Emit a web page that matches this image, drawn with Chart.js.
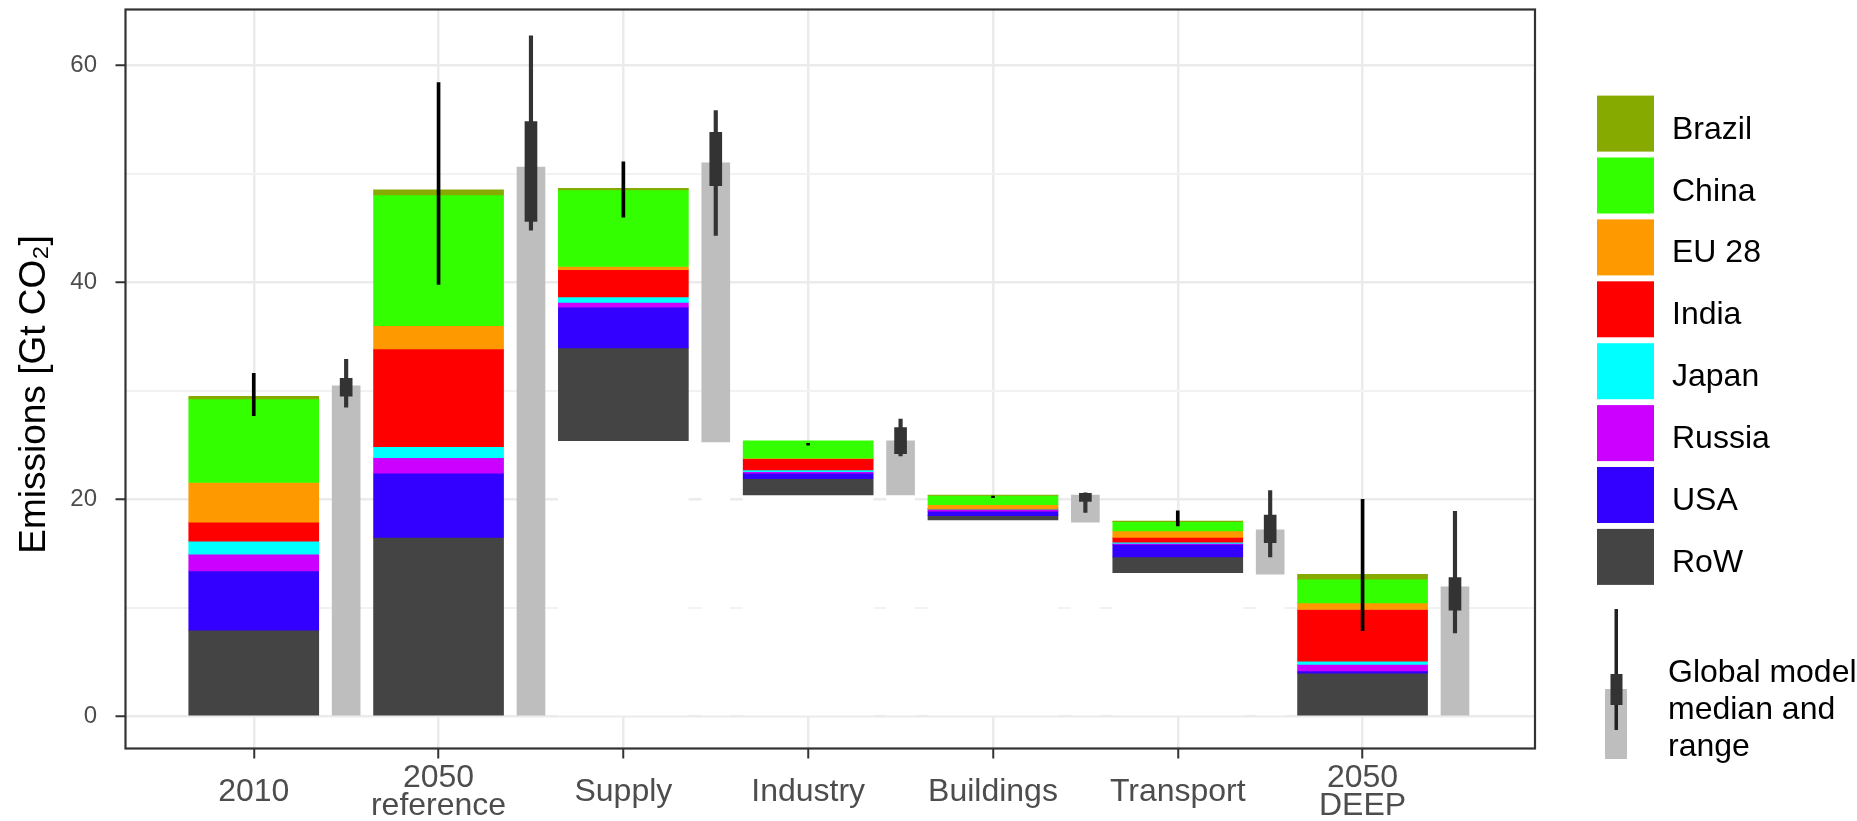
<!DOCTYPE html>
<html>
<head>
<meta charset="utf-8">
<style>
  html, body { margin: 0; padding: 0; background: #fff; }
  #wrap { width: 1857px; height: 821px; }
</style>
<script src="https://cdn.jsdelivr.net/npm/chart.js@4.4.1/dist/chart.umd.min.js"></script>
</head>
<body>
<div id="wrap"><canvas id="emissions"></canvas></div>
<script>
const FONT = "'Liberation Sans', Arial, sans-serif"

const categories = [['2010'], ['2050', 'reference'], ['Supply'], ['Industry'], ['Buildings'], ['Transport'], ['2050', 'DEEP']]
const regions = ['Brazil', 'China', 'EU 28', 'India', 'Japan', 'Russia', 'USA', 'RoW']
const regionColors = ['#86AA00', '#33FF00', '#FF9900', '#FF0000', '#00FFFF', '#CC00FF', '#3300FF', '#444444']

// bottom of each (waterfall) bar
const barBase = [0, 0, 25.4, 20.4, 18.1, 13.25, 0]

// Gt CO2 per region, stacked from RoW (bottom) up to Brazil (top)
const brazil = [0.25, 0.45, 0.15, 0, 0.05, 0.05, 0.45]
const china = [7.7, 12.05, 7.05, 1.6, 0.85, 0.85, 2.2]
const eu28 = [3.65, 2.15, 0.3, 0.05, 0.35, 0.6, 0.6]
const india = [1.75, 9.0, 2.5, 1.05, 0.05, 0.45, 4.75]
const japan = [1.2, 1.0, 0.5, 0.15, 0.05, 0.1, 0.3]
const russia = [1.55, 1.45, 0.45, 0.15, 0.15, 0.1, 0.6]
const usa = [5.45, 5.9, 3.75, 0.5, 0.4, 1.15, 0.2]
const row = [7.95, 16.5, 8.55, 1.5, 0.4, 1.45, 4.0]
const regionValues = [brazil, china, eu28, india, japan, russia, usa, row]

// range on the country bars
const rangeLow = [27.7, 39.8, 46.0, 25.0, 20.15, 17.55, 7.9]
const rangeHigh = [31.6, 58.4, 51.1, 25.15, 20.3, 18.95, 20.0]

// global model: grey bar from base to median, box and whiskers
const modelBase = [0, 0, 25.3, 20.4, 17.9, 13.1, 0]
const modelMedian = [30.45, 50.6, 51.0, 25.4, 20.4, 17.2, 11.95]
const boxLow = [29.5, 45.6, 48.9, 24.2, 19.8, 16.0, 9.8]
const boxHigh = [31.15, 54.8, 53.8, 26.6, 20.55, 18.55, 12.8]
const whiskerLow = [28.5, 44.8, 44.3, 24.0, 18.8, 14.7, 7.7]
const whiskerHigh = [32.9, 62.7, 55.8, 27.4, 20.6, 20.8, 18.9]

const MAIN_W = 130
const MODEL_W = 28

function regionRanges(r) {
    return categories.map((c, i) => {
        let lo = barBase[i]
        for (let k = regionValues.length - 1; k > r; k--) lo += regionValues[k][i]
        const v = regionValues[r][i]
        return v > 0 ? { x: i + 1, y: [lo, lo + v] } : null
    }).filter(Boolean)
}

function pairs(lo, hi, shift) {
    return categories.map((c, i) => ({ x: i + 1 + shift, y: [lo[i], hi[i]] }))
        .filter(p => p.y[1] > p.y[0])
}

const datasets = []

// white blocks below the floating bars hide the grid, as in the original
datasets.push({
    data: pairs(categories.map(() => 0), barBase, 0),
    backgroundColor: '#FFFFFF', barThickness: MAIN_W, order: 5,
})
datasets.push({
    data: pairs(categories.map(() => 0), modelBase, 0.5),
    backgroundColor: '#FFFFFF', barThickness: MODEL_W, order: 5,
})

regions.forEach((name, r) => {
    datasets.push({
        label: name,
        data: regionRanges(r),
        backgroundColor: regionColors[r],
        barThickness: MAIN_W,
        order: 4,
    })
})

datasets.push({
    label: 'model',
    data: pairs(modelBase, modelMedian, 0.5),
    backgroundColor: '#BEBEBE', barThickness: MODEL_W, order: 3,
})
datasets.push({
    data: pairs(whiskerLow, whiskerHigh, 0.5),
    backgroundColor: '#333333', barThickness: 3.5, order: 2,
})
datasets.push({
    data: pairs(boxLow, boxHigh, 0.5),
    backgroundColor: '#333333', barThickness: 12, order: 1,
})
datasets.push({
    data: pairs(rangeLow, rangeHigh, 0),
    backgroundColor: '#000000', barThickness: 3, order: 0,
})

// panel border + legend on the right
const frameAndLegend = {
    id: 'frameAndLegend',
    afterDatasetsDraw(chart) {
        const { ctx, chartArea: a } = chart
        ctx.save()
        ctx.strokeStyle = '#333333'
        ctx.lineWidth = 2.2
        ctx.strokeRect(a.left, a.top, a.right - a.left, a.bottom - a.top)
        ctx.restore()
    },
    afterDraw(chart) {
        const ctx = chart.ctx
        ctx.save()
        ctx.font = '32px ' + FONT
        ctx.fillStyle = '#000'
        ctx.textBaseline = 'alphabetic'
        regions.forEach((name, i) => {
            const y = 95.6 + i * 61.9
            ctx.fillStyle = regionColors[i]
            ctx.fillRect(1597, y, 57, 56)
            ctx.fillStyle = '#000'
            ctx.fillText(name, 1672, y + 28 + 15)
        })
        // global model key
        ctx.fillStyle = '#BEBEBE'
        ctx.fillRect(1605, 689, 22, 70)
        ctx.fillStyle = '#222'
        ctx.fillRect(1614.5, 609, 3.5, 121)
        ctx.fillStyle = '#333'
        ctx.fillRect(1610.5, 674, 12, 31)
        ctx.fillStyle = '#000'
        ;['Global model', 'median and', 'range'].forEach((t, i) => {
            ctx.fillText(t, 1668, 682 + i * 37)
        })
        ctx.restore()
    },
}

const major = v => Math.abs(v % 20) < 1e-9

new Chart(document.getElementById('emissions').getContext('2d'), {
    type: 'bar',
    data: { datasets },
    options: {
        responsive: true,
        maintainAspectRatio: false,
        animation: false,
        layout: { padding: { top: 9.5, right: 322, left: 0, bottom: 0 } },
        datasets: { bar: { grouped: false, borderWidth: 0 } },
        plugins: {
            legend: { display: false },
            tooltip: { enabled: false },
        },
        scales: {
            x: {
                type: 'linear',
                min: 0.306,
                max: 7.933,
                offset: false,
                border: { display: false },
                grid: {
                    offset: false,
                    color: '#EBEBEB',
                    lineWidth: 2.5,
                    tickLength: 10,
                    tickColor: '#333333',
                    tickWidth: 2,
                },
                ticks: {
                    stepSize: 1,
                    includeBounds: false,
                    autoSkip: false,
                    maxRotation: 0,
                    crossAlign: 'center',
                    padding: 19.5,
                    color: '#4D4D4D',
                    font: { family: FONT, size: 32, lineHeight: 0.88 },
                    callback: v => categories[v - 1],
                },
                afterFit: s => { s.height = 72.5; s.paddingLeft = 0; s.paddingRight = 0 },
            },
            y: {
                min: -2.95,
                max: 65.12,
                border: { display: false },
                grid: {
                    color: c => major(c.tick.value) ? '#EBEBEB' : '#F2F2F2',
                    lineWidth: c => major(c.tick.value) ? 2.5 : 2,
                    tickLength: 10,
                    tickColor: c => major(c.tick.value) ? '#333333' : 'rgba(0,0,0,0)',
                    tickWidth: 2,
                },
                ticks: {
                    stepSize: 10,
                    includeBounds: false,
                    padding: 18.5,
                    color: '#4D4D4D',
                    font: { family: FONT, size: 24 },
                    callback: v => major(v) ? v : '',
                },
                title: {
                    display: true,
                    // trailing spaces nudge the centred title a bit lower, like the original
                    text: 'Emissions [Gt CO₂]   ',
                    color: '#000',
                    font: { family: FONT, size: 37 },
                    padding: { top: 13, bottom: 0 },
                },
                afterFit: s => { s.width = 125.5; s.paddingTop = 0; s.paddingBottom = 0 },
            },
        },
    },
    plugins: [frameAndLegend],
})
</script>
</body>
</html>
